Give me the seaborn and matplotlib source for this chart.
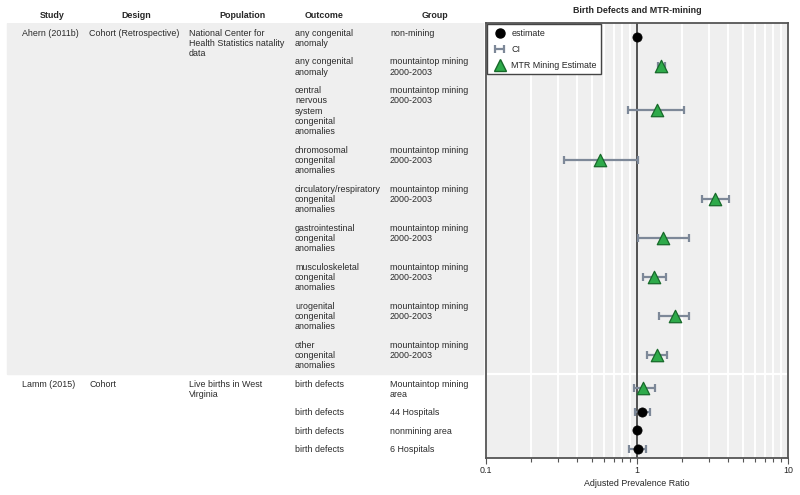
import numpy as np
import pandas as pd
import matplotlib.pyplot as plt
import seaborn as sns
from matplotlib.lines import Line2D

# study level info
studies = ["Ahern (2011b)", "Lamm (2015)"]
designs = ["Cohort (Retrospective)", "Cohort"]
populations = ["National Center for\nHealth Statistics natality\ndata",
               "Live births in West\nVirginia"]
study_nrows = [9, 4]

# one entry per row
outcomes = ["any congenital\nanomaly",
            "any congenital\nanomaly",
            "central\nnervous\nsystem\ncongenital\nanomalies",
            "chromosomal\ncongenital\nanomalies",
            "circulatory/respiratory\ncongenital\nanomalies",
            "gastrointestinal\ncongenital\nanomalies",
            "musculoskeletal\ncongenital\nanomalies",
            "urogenital\ncongenital\nanomalies",
            "other\ncongenital\nanomalies",
            "birth defects",
            "birth defects",
            "birth defects",
            "birth defects"]
groups = ["non-mining",
          "mountaintop mining\n2000-2003",
          "mountaintop mining\n2000-2003",
          "mountaintop mining\n2000-2003",
          "mountaintop mining\n2000-2003",
          "mountaintop mining\n2000-2003",
          "mountaintop mining\n2000-2003",
          "mountaintop mining\n2000-2003",
          "mountaintop mining\n2000-2003",
          "Mountaintop mining\narea",
          "44 Hospitals",
          "nonmining area",
          "6 Hospitals"]
estimate = [1.0, 1.45, 1.36, 0.57, 3.28, 1.49, 1.30, 1.79, 1.36, 1.10, 1.08, 1.0, 1.01]
ci_low = [np.nan, 1.37, 0.87, 0.33, 2.69, 1.01, 1.10, 1.40, 1.16, 0.955, 0.97, np.nan, 0.89]
ci_high = [np.nan, 1.53, 2.05, 1.01, 4.06, 2.21, 1.56, 2.21, 1.58, 1.32, 1.21, np.nan, 1.14]
is_mtr = [False, True, True, True, True, True, True, True, True, True, False, False, False]

# row layout: height = number of text lines + padding (in line units)
pad = 0.79
nlines = [max(o.count("\n"), g.count("\n")) + 1 for o, g in zip(outcomes, groups)]
heights = np.array(nlines) + pad
tops = np.concatenate([[0], np.cumsum(heights)[:-1]])
total = heights.sum()

df = pd.DataFrame({"outcome": outcomes, "group": groups, "est": estimate,
                   "lo": ci_low, "hi": ci_high, "mtr": is_mtr,
                   "top": tops, "y": tops + heights / 2})

sns.set_style("white")
plt.rcParams["font.family"] = ["Liberation Sans", "DejaVu Sans"]
fs = 6.4
bg = "#efefef"

fig = plt.figure(figsize=(8, 4.95), dpi=100)
W, H = 800, 495
ax = fig.add_axes([486 / W, (H - 458) / H, 302 / W, 435 / H])
ax_t = fig.add_axes([0, (H - 458) / H, 486 / W, 435 / H], sharey=ax)

# forest plot
ax.set_facecolor(bg)
ax.set_xscale("log")
ax.set_xlim(0.1, 10)
ax.set_ylim(total, 0)
ax.grid(True, which="both", axis="x", color="white", lw=1.4)
ax.axhline(tops[study_nrows[0]], color="white", lw=1.6)
ax.axvline(1, color="#333333", lw=1.2, zorder=2)

ci = df.dropna(subset=["lo"])
eb = ax.errorbar(ci["est"], ci["y"], xerr=[ci["est"] - ci["lo"], ci["hi"] - ci["est"]],
                 fmt="none", ecolor="#7d8898", elinewidth=1.6, capsize=2.6,
                 capthick=1.6, zorder=3)

sns.scatterplot(data=df[~df["mtr"]], x="est", y="y", marker="o", s=44,
                color="black", edgecolor="black", linewidth=0.5, ax=ax, zorder=4)
sns.scatterplot(data=df[df["mtr"]], x="est", y="y", marker="^", s=80,
                color="#2eaa4a", edgecolor="#17692a", linewidth=0.9, ax=ax, zorder=4)

ax.set_yticks([])
ax.set_ylabel("")
ax.set_xticks([0.1, 1, 10])
ax.set_xticklabels(["0.1", "1", "10"], fontsize=fs)
ax.tick_params(axis="x", which="both", bottom=True, direction="out", color="#555555",
               pad=2)
ax.tick_params(axis="x", which="major", length=4, width=0.8)
ax.tick_params(axis="x", which="minor", length=3, width=0.8)
ax.set_xlabel("Adjusted Prevalence Ratio", fontsize=fs, labelpad=3)
ax.set_title("Birth Defects and MTR-mining", fontsize=fs, fontweight="bold", pad=7)
for s in ax.spines.values():
    s.set_color("#555555")
    s.set_linewidth(1.3)

handles = [Line2D([], [], marker="o", ls="none", color="black", markersize=6.5),
           eb,
           Line2D([], [], marker="^", ls="none", markerfacecolor="#2eaa4a",
                  markeredgecolor="#17692a", markersize=9)]
leg = ax.legend(handles, ["estimate", "CI", "MTR Mining Estimate"], loc="upper left",
                fontsize=fs, frameon=True, fancybox=False, borderaxespad=0.15,
                handlelength=1.8, handletextpad=0.4, labelspacing=0.8, borderpad=0.5)
leg.get_frame().set_edgecolor("#444444")
leg.get_frame().set_linewidth(1.0)
leg.get_frame().set_alpha(1)

# table
ax_t.set_xlim(0, 486)
ax_t.axis("off")
ax_t.axhspan(0, tops[study_nrows[0]], xmin=7 / 486, xmax=483 / 486, color=bg, zorder=0)

headers = ["Study", "Design", "Population", "Outcome", "Group"]
header_x = [52, 136, 242, 324, 435]
col_x = [22, 89, 189, 295, 390]
for h, hx in zip(headers, header_x):
    ax_t.text(hx, -0.75, h, ha="center", va="center", fontsize=fs,
              fontweight="bold", clip_on=False)

txt = dict(fontsize=fs, va="top", ha="left", color="#2a2a2a", linespacing=1.18)
start = 0
for st, de, po, n in zip(studies, designs, populations, study_nrows):
    y0 = tops[start] + 0.55
    ax_t.text(col_x[0], y0, st, **txt)
    ax_t.text(col_x[1], y0, de, **txt)
    ax_t.text(col_x[2], y0, po, **txt)
    start += n
for _, r in df.iterrows():
    ax_t.text(col_x[3], r["top"] + 0.55, r["outcome"], **txt)
    ax_t.text(col_x[4], r["top"] + 0.55, r["group"], **txt)

fig.savefig("out.png", dpi=100)
